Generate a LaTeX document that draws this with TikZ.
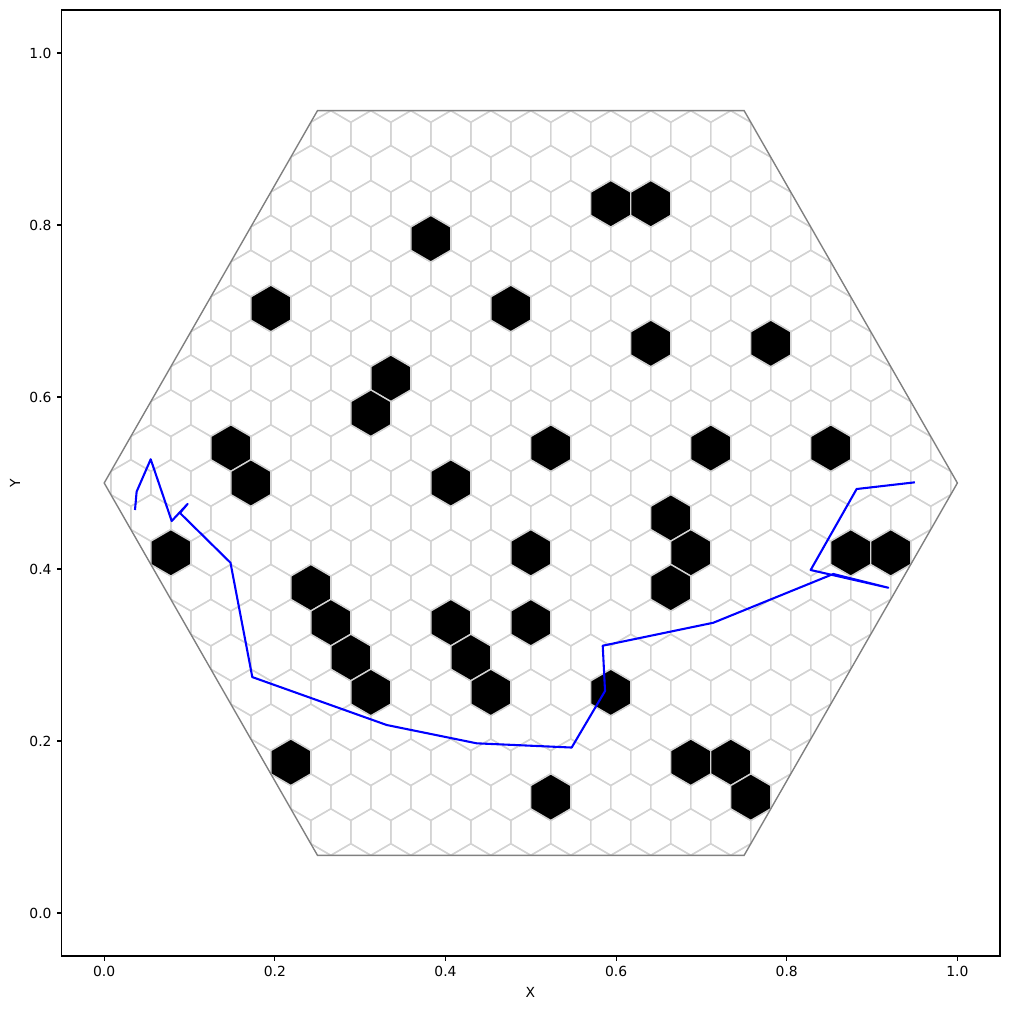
\documentclass[tikz,border=0pt]{standalone}
\usepackage{fontspec}
\setmainfont{DejaVu Sans}
\definecolor{lgray}{RGB}{211,211,211}
\definecolor{mgray}{RGB}{128,128,128}
\begin{document}
\begin{tikzpicture}[x=0.72pt,y=0.72pt,
  cellline/.style={draw=lgray, line width=1pt},
  blackcell/.style={fill=black, draw=lgray, line width=1pt},
  boundary/.style={draw=mgray, line width=1pt},
  pathline/.style={draw=blue, line width=1.5pt, line join=round},
  spine/.style={draw=black, line width=0.8pt},
  ticklbl/.style={inner sep=0pt, font=\fontsize{10}{12}\selectfont}]
\useasboundingbox (0,0) rectangle (1009,1009);
\fill[white] (0,0) rectangle (1009,1009);
% data area
\begin{scope}[xshift=75.024pt, yshift=69.12pt, x=614.304pt, y=619.2pt]
  \begin{scope}
    \clip (0,0.5) -- (0.25,0.9330127) -- (0.75,0.9330127) -- (1,0.5) -- (0.75,0.0669873) -- (0.25,0.0669873) -- cycle;
    \foreach \j in {-11,...,11}{
      \foreach \k in {-11,...,11}{
        \pgfmathsetmacro\cx{0.5+(2*\k+mod(abs(\j),2))*0.0234375}
        \pgfmathsetmacro\cy{0.5+\j*0.04059494}
        \draw[cellline, shift={(\cx,\cy)}] (0.0234375,0.01353165) -- (0,0.0270633) -- (-0.0234375,0.01353165) -- (-0.0234375,-0.01353165) -- (0,-0.0270633) -- (0.0234375,-0.01353165) -- cycle;
      }
    }
  \end{scope}
  \foreach \m/\j in {4/8, 6/8, -5/7, -13/5, -1/5, 6/4, 12/4, -7/3, -8/2, -15/1, 1/1, 9/1, 15/1, -14/0, -4/0, 7/-1, -18/-2, 0/-2, 8/-2, 16/-2, 18/-2, -11/-3, 7/-3, -10/-4, -4/-4, 0/-4, -9/-5, -3/-5, -8/-6, -2/-6, 4/-6, -12/-8, 8/-8, 10/-8, 11/-9, 1/-9}{
    \pgfmathsetmacro\cx{0.5+\m*0.0234375}
    \pgfmathsetmacro\cy{0.5+\j*0.04059494}
    \filldraw[blackcell, shift={(\cx,\cy)}] (0.0234375,0.01353165) -- (0,0.0270633) -- (-0.0234375,0.01353165) -- (-0.0234375,-0.01353165) -- (0,-0.0270633) -- (0.0234375,-0.01353165) -- cycle;
  }
  \draw[boundary] (0,0.5) -- (0.25,0.9330127) -- (0.75,0.9330127) -- (1,0.5) -- (0.75,0.0669873) -- (0.25,0.0669873) -- cycle;
  \draw[pathline] (0.0361,0.4686) -- (0.0380,0.4899) -- (0.0545,0.5276) -- (0.0791,0.4558) -- (0.0977,0.4756) -- (0.0888,0.4651) -- (0.1480,0.4073) -- (0.1736,0.2743) -- (0.3311,0.2186) -- (0.4366,0.1973) -- (0.5479,0.1924) -- (0.5870,0.2581) -- (0.5843,0.3108) -- (0.7139,0.3375) -- (0.8545,0.3942) -- (0.9190,0.3782) -- (0.8280,0.3988) -- (0.8819,0.4930) -- (0.9502,0.5008);
\end{scope}
% axes frame
\draw[spine] (61.5,53) rectangle (1000,999);
\foreach \v/\t in {0/0.0, 0.2/0.2, 0.4/0.4, 0.6/0.6, 0.8/0.8, 1/1.0}{
  \pgfmathsetmacro\xx{104.2+853.2*\v}
  \draw[spine] (\xx,53) -- (\xx,48.14);
  \node[ticklbl, anchor=north] at (\xx,43.3) {\t};
  \pgfmathsetmacro\yy{96+860*\v}
  \draw[spine] (61.5,\yy) -- (56.64,\yy);
  \node[ticklbl, anchor=east] at (51.8,\yy) {\t};
}
\node[ticklbl] at (530.5,17) {X};
\node[ticklbl, rotate=90] at (15,526) {Y};
\end{tikzpicture}
\end{document}
